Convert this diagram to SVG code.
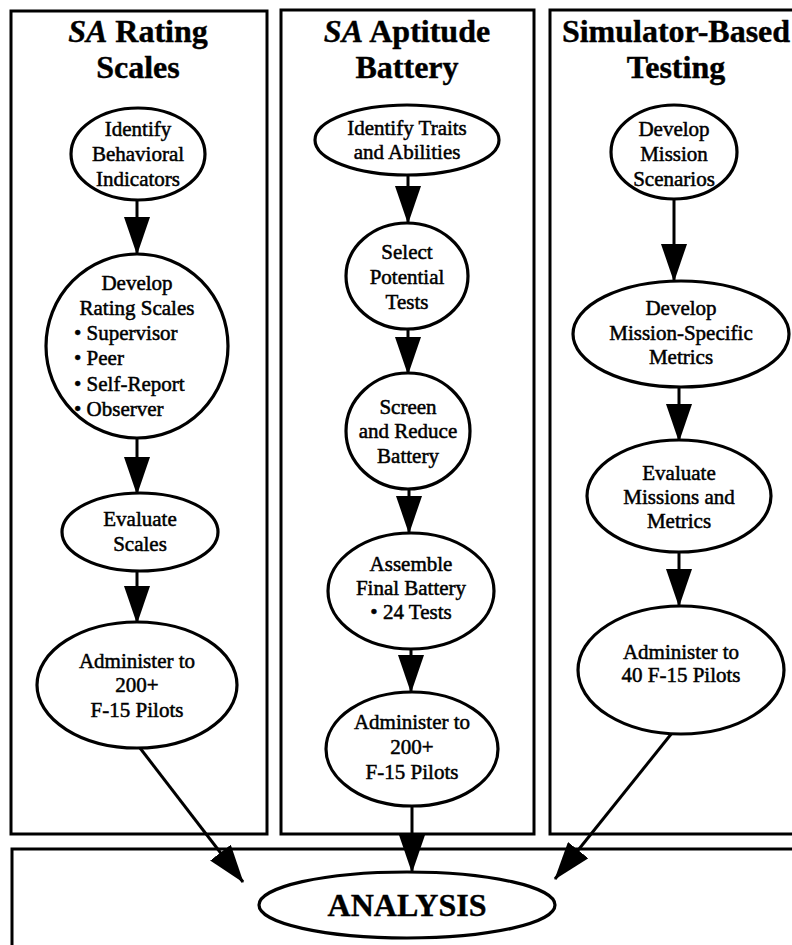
<svg xmlns="http://www.w3.org/2000/svg" width="792" height="945" viewBox="0 0 792 945">
<defs>
<style>
.panel{fill:none;stroke:#000;stroke-width:3}
.node{fill:#fff;stroke:#000;stroke-width:3.2}
.t{font-family:"Liberation Serif","Times New Roman",serif;font-size:21px;fill:#000;stroke:#000;stroke-width:0.5;text-anchor:middle}
.tl{text-anchor:start}
.h{font-family:"Liberation Serif","Times New Roman",serif;font-size:32px;font-weight:bold;fill:#000;stroke:#000;stroke-width:0.4;text-anchor:middle}
.a{fill:none;stroke:#000;stroke-width:3;marker-end:url(#ah)}
</style>
<marker id="ah" markerUnits="userSpaceOnUse" markerWidth="38" markerHeight="26" refX="37" refY="13" orient="auto">
<path d="M0,0 L38,13 L0,26 Z" fill="#000"/>
</marker>
</defs>
<rect width="792" height="945" fill="#fff"/>
<g id="panels">
<rect class="panel" x="11" y="11" width="256" height="823"/>
<rect class="panel" x="281" y="10" width="253" height="824"/>
<rect class="panel" x="550" y="10" width="260" height="824"/>
<rect class="panel" x="12" y="849" width="800" height="120"/>
</g>
<g id="headers">
<text class="h" x="138" y="42"><tspan font-style="italic">SA</tspan> Rating</text>
<text class="h" x="138" y="78">Scales</text>
<text class="h" x="407" y="42"><tspan font-style="italic">SA</tspan> Aptitude</text>
<text class="h" x="407" y="78">Battery</text>
<text class="h" x="676" y="42">Simulator-Based</text>
<text class="h" x="676" y="78">Testing</text>
</g>
<g id="connectors">
<line class="a" x1="137" y1="200" x2="137" y2="254"/>
<line class="a" x1="137" y1="438" x2="137" y2="494"/>
<line class="a" x1="137" y1="571" x2="137" y2="623"/>
<line class="a" x1="140" y1="748" x2="243" y2="882"/>
<line class="a" x1="408" y1="175" x2="408" y2="223"/>
<line class="a" x1="408" y1="329" x2="408" y2="374"/>
<line class="a" x1="409" y1="489" x2="409" y2="533"/>
<line class="a" x1="411" y1="649" x2="411" y2="692"/>
<line class="a" x1="412" y1="806" x2="412" y2="872"/>
<line class="a" x1="674" y1="199" x2="674" y2="281"/>
<line class="a" x1="679" y1="387" x2="679" y2="441"/>
<line class="a" x1="679" y1="552" x2="679" y2="606"/>
<line class="a" x1="672" y1="733" x2="555" y2="879"/>
</g>
<g id="n1">
<ellipse class="node" cx="138" cy="154" rx="67" ry="46"/>
<text class="t" x="138" y="136">Identify</text>
<text class="t" x="138" y="161">Behavioral</text>
<text class="t" x="138" y="186">Indicators</text>
</g>
<g id="n2">
<ellipse class="node" cx="137" cy="346" rx="91" ry="92"/>
<text class="t" x="137" y="290">Develop</text>
<text class="t" x="137" y="315">Rating Scales</text>
<text class="t tl" x="74" y="340">• Supervisor</text>
<text class="t tl" x="74" y="365">• Peer</text>
<text class="t tl" x="74" y="391">• Self-Report</text>
<text class="t tl" x="74" y="416">• Observer</text>
</g>
<g id="n3">
<ellipse class="node" cx="140" cy="532" rx="78" ry="39"/>
<text class="t" x="140" y="526">Evaluate</text>
<text class="t" x="140" y="551">Scales</text>
</g>
<g id="n4">
<ellipse class="node" cx="137" cy="685" rx="100" ry="63"/>
<text class="t" x="137" y="668">Administer to</text>
<text class="t" x="137" y="692">200+</text>
<text class="t" x="137" y="717">F-15 Pilots</text>
</g>
<g id="n5">
<ellipse class="node" cx="407" cy="140" rx="92" ry="35"/>
<text class="t" x="407" y="135">Identify Traits</text>
<text class="t" x="407" y="159">and Abilities</text>
</g>
<g id="n6">
<ellipse class="node" cx="407" cy="276" rx="61" ry="53"/>
<text class="t" x="407" y="259">Select</text>
<text class="t" x="407" y="284">Potential</text>
<text class="t" x="407" y="309">Tests</text>
</g>
<g id="n7">
<ellipse class="node" cx="408" cy="431" rx="62" ry="58"/>
<text class="t" x="408" y="414">Screen</text>
<text class="t" x="408" y="438">and Reduce</text>
<text class="t" x="408" y="463">Battery</text>
</g>
<g id="n8">
<ellipse class="node" cx="411" cy="591" rx="83" ry="58"/>
<text class="t" x="411" y="571">Assemble</text>
<text class="t" x="411" y="595">Final Battery</text>
<text class="t" x="411" y="619">• 24 Tests</text>
</g>
<g id="n9">
<ellipse class="node" cx="412" cy="749" rx="86" ry="57"/>
<text class="t" x="412" y="729">Administer to</text>
<text class="t" x="412" y="754">200+</text>
<text class="t" x="412" y="779">F-15 Pilots</text>
</g>
<g id="n10">
<ellipse class="node" cx="674" cy="152" rx="63" ry="47"/>
<text class="t" x="674" y="136">Develop</text>
<text class="t" x="674" y="161">Mission</text>
<text class="t" x="674" y="186">Scenarios</text>
</g>
<g id="n11">
<ellipse class="node" cx="681" cy="334" rx="108" ry="53"/>
<text class="t" x="681" y="315">Develop</text>
<text class="t" x="681" y="340">Mission-Specific</text>
<text class="t" x="681" y="364">Metrics</text>
</g>
<g id="n12">
<ellipse class="node" cx="679" cy="496" rx="92" ry="56"/>
<text class="t" x="679" y="480">Evaluate</text>
<text class="t" x="679" y="504">Missions and</text>
<text class="t" x="679" y="528">Metrics</text>
</g>
<g id="n13">
<ellipse class="node" cx="681" cy="670" rx="103" ry="64"/>
<text class="t" x="681" y="659">Administer to</text>
<text class="t" x="681" y="682">40 F-15 Pilots</text>
</g>
<g id="n14">
<ellipse class="node" cx="407" cy="905" rx="148" ry="33"/>
<text class="h" x="407" y="916">ANALYSIS</text>
</g>
</svg>
